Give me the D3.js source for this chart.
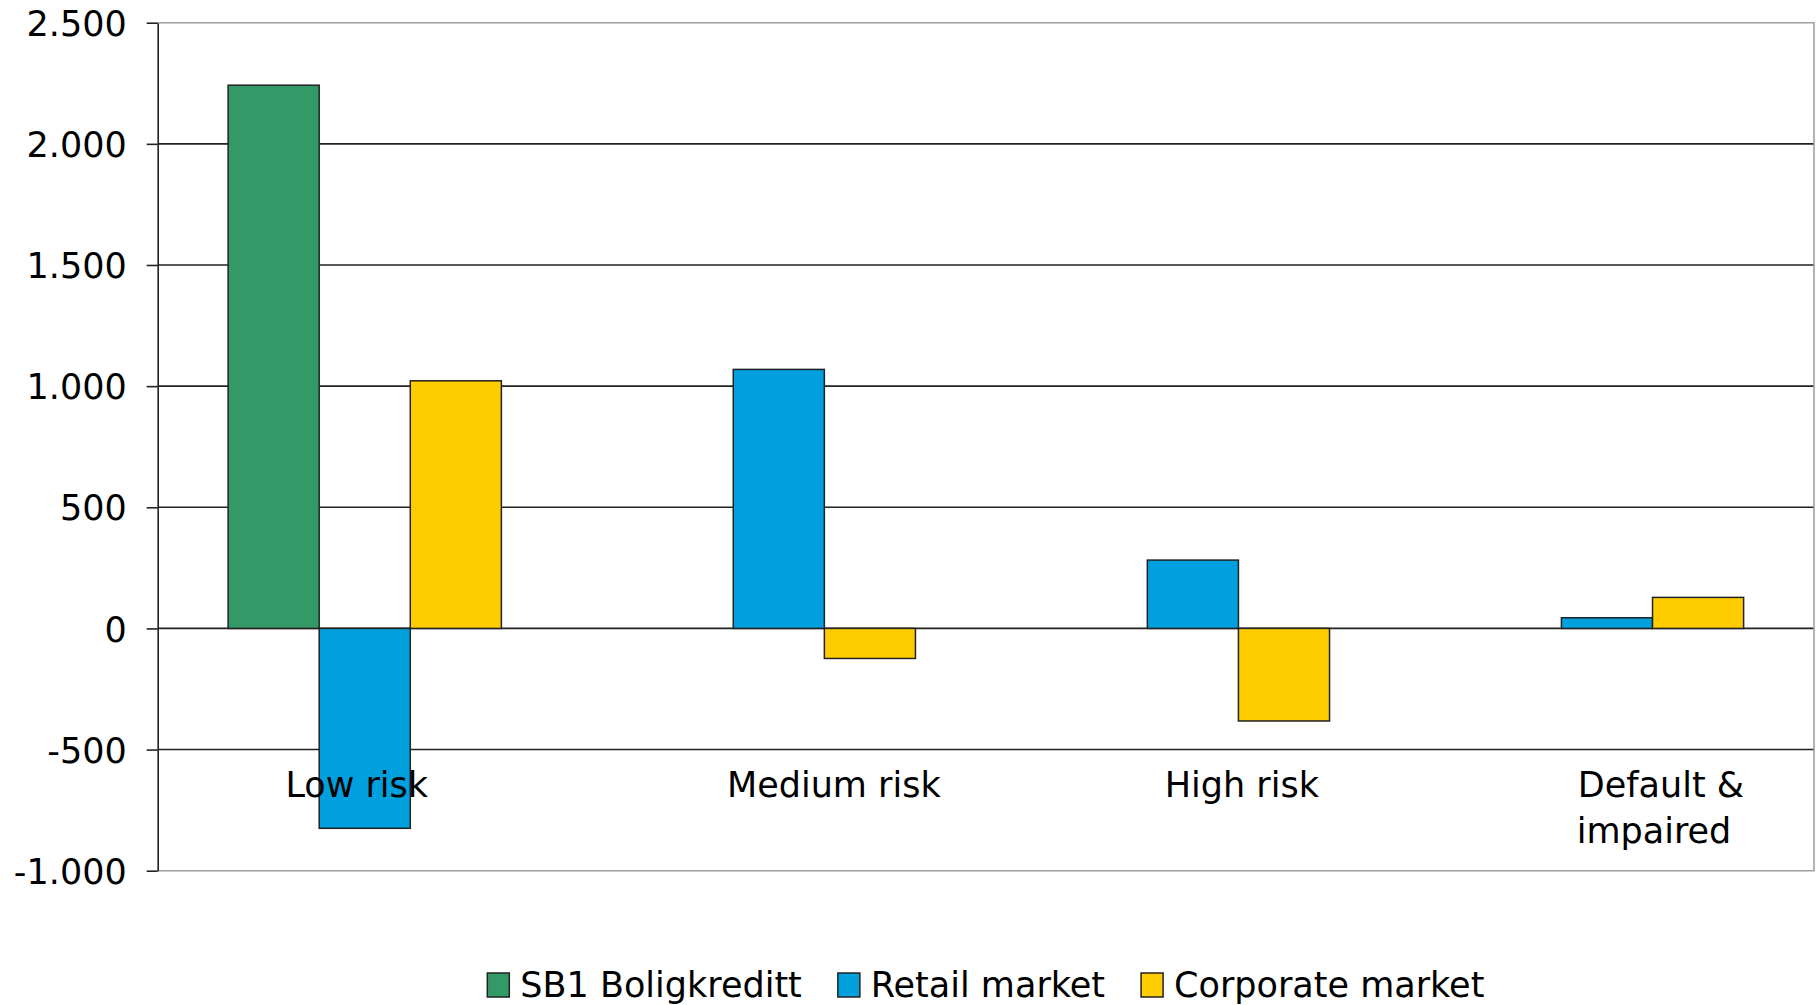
<!DOCTYPE html>
<html>
<head>
<meta charset="utf-8">
<script src="https://cdn.jsdelivr.net/npm/d3@7"></script>
<style>
  html, body { margin: 0; padding: 0; background: #fff; }
  svg { display: block; }
  text { font-family: Verdana, "DejaVu Sans", sans-serif; fill: #000; }
</style>
</head>
<body>
<svg id="chart" width="1820" height="1005"></svg>
<script>
// Exposure by risk class (NOK million, change)
const categories = ["Low risk", "Medium risk", "High risk", "Default & impaired"];
const seriesNames = ["SB1 Boligkreditt", "Retail market", "Corporate market"];
const sb1Boligkreditt = [2242, 0, 0, 0];
const retailMarket = [-825, 1069, 282, 44];
const corporateMarket = [1022, -124, -382, 128];
const yTicks = [-1000, -500, 0, 500, 1000, 1500, 2000, 2500];

const seriesValues = [sb1Boligkreditt, retailMarket, corporateMarket];
const colors = ["#339966", "#00A0DE", "#FFCC00"];

const svg = d3.select("#chart");
const plot = { left: 157.7, right: 1814, top: 22.7, bottom: 870.7 };
const fontSize = 35;

const locale = d3.formatLocale({ decimal: ",", thousands: ".", grouping: [3], currency: ["", ""], minus: "-" });
const fmt = locale.format(",d");

const y = d3.scaleLinear().domain([-1000, 2500]).range([plot.bottom, plot.top]);
const x0 = d3.scaleBand().domain(categories).range([plot.left, plot.right])
  .paddingInner(0.34).paddingOuter(0.17);
const x1 = d3.scaleBand().domain(seriesNames).range([0, x0.bandwidth()]);

// horizontal gridlines (inner ticks dark, frame edges grey)
svg.append("g").selectAll("line")
  .data(yTicks.filter(t => t !== -1000 && t !== 2500))
  .join("line")
  .attr("x1", plot.left).attr("x2", plot.right)
  .attr("y1", d => y(d)).attr("y2", d => y(d))
  .attr("stroke", "#222").attr("stroke-width", 1.6);

// plot frame: top, right, bottom
svg.append("path")
  .attr("d", `M${plot.left},${y(2500)}H${plot.right}V${y(-1000)}H${plot.left}`)
  .attr("fill", "none").attr("stroke", "#a0a0a0").attr("stroke-width", 1.6);

// bars
const rows = [];
categories.forEach((c, i) => {
  seriesNames.forEach((s, j) => {
    const v = seriesValues[j][i];
    if (v !== 0) rows.push({ c, s, v, j });
  });
});
svg.append("g").selectAll("rect").data(rows).join("rect")
  .attr("x", d => x0(d.c) + x1(d.s))
  .attr("width", x1.bandwidth())
  .attr("y", d => y(Math.max(0, d.v)))
  .attr("height", d => Math.abs(y(d.v) - y(0)))
  .attr("fill", d => colors[d.j])
  .attr("stroke", "#222").attr("stroke-width", 1.5);

// y axis
const yAxis = d3.axisLeft(y).tickValues(yTicks).tickFormat(fmt).tickSizeOuter(0).tickSizeInner(11).tickPadding(20);
const ga = svg.append("g").attr("transform", `translate(${plot.left},0)`).call(yAxis);
ga.select(".domain").attr("stroke", "#222").attr("stroke-width", 1.6);
ga.selectAll(".tick line").attr("stroke", "#222").attr("stroke-width", 1.6);
ga.selectAll(".tick text").attr("font-size", fontSize).attr("fill", "#000")
  .attr("font-family", "Verdana, 'DejaVu Sans', sans-serif").attr("dy", "0.36em");

// category labels
const labelShift = { "Low risk": -8, "Medium risk": 55, "High risk": 49, "Default & impaired": 54 };
const labelLines = { "Default & impaired": ["Default &", "impaired"] };
const labelBaseline = 797;
categories.forEach(c => {
  const cx = x0(c) + x0.bandwidth() / 2 + labelShift[c];
  const lines = labelLines[c] || [c];
  const t = svg.append("text").attr("text-anchor", "middle").attr("font-size", fontSize);
  lines.forEach((ln, k) => {
    t.append("tspan").attr("x", cx - k * 7).attr("y", labelBaseline + k * 46).text(ln);
  });
});

// legend, centred under the plot area
const legend = svg.append("g");
const items = legend.selectAll("g").data(seriesNames).join("g");
items.append("rect").attr("width", 22).attr("height", 24).attr("y", 973)
  .attr("fill", (d, i) => colors[i]).attr("stroke", "#222").attr("stroke-width", 1.5);
items.append("text").attr("x", 33).attr("y", 997).attr("font-size", fontSize).text(d => d);
let cursor = 0;
const gap = 36;
items.each(function () {
  const w = 33 + d3.select(this).select("text").node().getComputedTextLength();
  d3.select(this).attr("transform", `translate(${cursor},0)`);
  cursor += w + gap;
});
const total = cursor - gap;
legend.attr("transform", `translate(${(plot.left + plot.right) / 2 - total / 2},0)`);
</script>
</body>
</html>
